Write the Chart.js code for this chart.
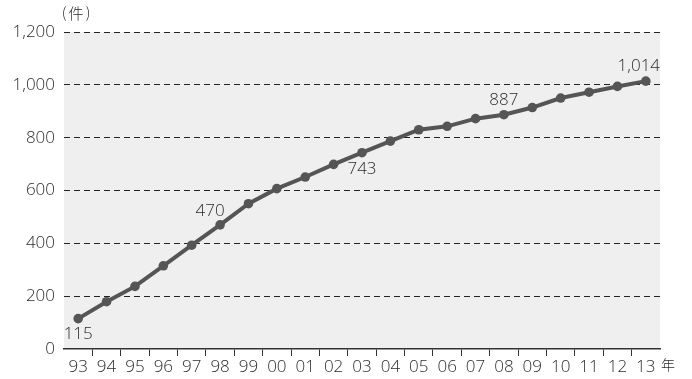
<!DOCTYPE html>
<html>
<head>
<meta charset="utf-8">
<script src="https://cdn.jsdelivr.net/npm/chart.js@4/dist/chart.umd.min.js"></script>
<style>
  html, body { margin: 0; padding: 0; background: #fff; }
  canvas { display: block; }
</style>
</head>
<body>
<canvas id="grafico" width="692" height="379"></canvas>
<script>
const anios = ['93', '94', '95', '96', '97', '98', '99', '00', '01', '02', '03',
  '04', '05', '06', '07', '08', '09', '10', '11', '12', '13'];
const casos = [115, 179, 237, 315, 393, 470, 550, 607, 651, 699, 743,
  787, 830, 843, 872, 887, 914, 950, 972, 994, 1014];
// indices of the points that carry a value label
const etiquetados = [0, 5, 10, 15, 20];

const colorTexto = '#2c2c2c';
const fuente = "'Open Sans', 'Noto Sans', sans-serif";
const fuenteCJK = "'Noto Sans CJK JP', sans-serif";

// label offsets (dx, dy) relative to the point
const desplazamientos = {
  0: [0, 16],
  5: [-10, -14],
  10: [0, 16],
  15: [0, -15],
  20: [-7, -15]
};

const fondoArea = {
  id: 'fondoArea',
  beforeDraw(chart) {
    const { ctx, chartArea: a } = chart;
    ctx.save();
    ctx.fillStyle = '#efefef';
    ctx.fillRect(a.left, a.top, a.right - a.left, a.bottom - a.top);
    ctx.restore();
  }
};

const textos = {
  id: 'textos',
  afterDatasetsDraw(chart) {
    const { ctx } = chart;
    const meta = chart.getDatasetMeta(0);
    ctx.save();
    ctx.fillStyle = colorTexto;
    ctx.textAlign = 'center';
    ctx.textBaseline = 'middle';
    ctx.font = '300 17px ' + fuente;
    etiquetados.forEach((i) => {
      const p = meta.data[i];
      const d = desplazamientos[i] || [0, -15];
      ctx.fillText(casos[i].toLocaleString('en-US'), p.x + d[0], p.y + d[1]);
    });
    ctx.font = '300 15px ' + fuenteCJK;
    ctx.fillText('(', 64, 12);
    ctx.fillText('件', 76, 13);
    ctx.fillText(')', 88, 12);
    ctx.font = '300 14px ' + fuenteCJK;
    ctx.fillText('年', 668, 365);
    ctx.restore();
  }
};

const ctx = document.getElementById('grafico');
new Chart(ctx, {
  type: 'line',
  data: {
    labels: anios,
    datasets: [{
      data: casos,
      borderColor: '#555555',
      backgroundColor: '#555555',
      borderWidth: 4,
      pointRadius: 4.8,
      pointHoverRadius: 4.8,
      pointBorderWidth: 0,
      tension: 0
    }]
  },
  options: {
    responsive: false,
    animation: false,
    locale: 'en-US',
    layout: { padding: { top: 32, right: 32, left: 0, bottom: 0 } },
    plugins: {
      legend: { display: false },
      tooltip: { enabled: false }
    },
    scales: {
      x: {
        type: 'category',
        offset: true,
        afterFit(scale) { scale.height = 30; },
        grid: {
          offset: true,
          drawOnChartArea: false,
          drawTicks: true,
          tickLength: 7,
          color: (c) => (c.type !== 'tick' || c.index === 0) ? 'rgba(0,0,0,0)' : '#333333',
          lineWidth: 1
        },
        border: { display: true, color: '#333333', width: 1.5 },
        ticks: {
          color: colorTexto,
          font: { size: 17, family: fuente, weight: 300 },
          padding: 1,
          maxRotation: 0,
          autoSkip: false
        }
      },
      y: {
        min: 0,
        max: 1200,
        afterFit(scale) { scale.width = 64; },
        grid: {
          drawTicks: false,
          color: (c) => c.tick && c.tick.value === 0 ? 'rgba(0,0,0,0)' : '#222222',
          lineWidth: 1
        },
        border: { display: false, dash: [6, 4] },
        ticks: {
          stepSize: 200,
          color: colorTexto,
          padding: 9,
          font: { size: 17, family: fuente, weight: 300 }
        }
      }
    }
  },
  plugins: [fondoArea, textos]
});
</script>
</body>
</html>
